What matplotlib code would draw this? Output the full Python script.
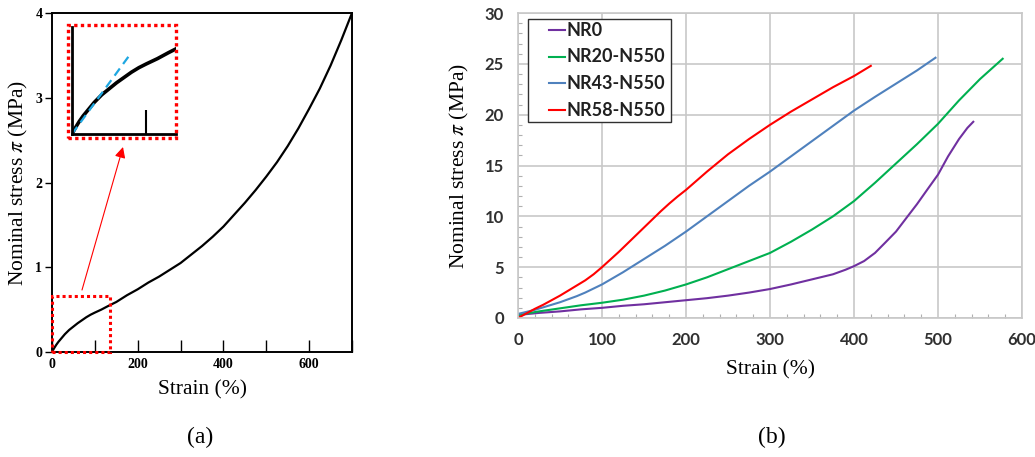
import numpy as np
import matplotlib.pyplot as plt
from matplotlib.patches import Rectangle
from matplotlib.lines import Line2D

plt.rcParams["mathtext.fontset"] = "stix"

# (a) single tensile curve
strain_a = [0, 5, 10, 15, 20, 30, 40, 50, 60, 70, 80, 90, 100, 115, 130, 150, 175,
            200, 225, 250, 275, 300, 325, 350, 375, 400, 425, 450, 475, 500, 525,
            550, 575, 600, 625, 650, 675, 700]
stress_a = [0, 0.045, 0.085, 0.12, 0.15, 0.21, 0.26, 0.30, 0.34, 0.375, 0.41, 0.44,
            0.465, 0.50, 0.54, 0.59, 0.67, 0.74, 0.82, 0.89, 0.97, 1.05, 1.15, 1.25,
            1.36, 1.48, 1.62, 1.76, 1.91, 2.07, 2.24, 2.43, 2.64, 2.87, 3.11, 3.38,
            3.68, 4.0]
tangent_strain = [0, 77]
tangent_stress = [0, 0.52]

# (b) filled compounds
series_names = ["NR0", "NR20-N550", "NR43-N550", "NR58-N550"]
series_colors = ["#7030a0", "#00b050", "#4f81bd", "#ff0000"]
strain_nr0 = [0, 25, 50, 75, 100, 125, 150, 175, 200, 225, 250, 275, 300, 325, 350,
              375, 390, 400, 412, 425, 437, 450, 462, 475, 487, 500, 512, 525, 535, 542]
stress_nr0 = [0.3, 0.5, 0.65, 0.85, 1.0, 1.2, 1.35, 1.55, 1.75, 1.95, 2.2, 2.5, 2.85,
              3.3, 3.8, 4.3, 4.75, 5.1, 5.6, 6.4, 7.4, 8.5, 9.8, 11.2, 12.6, 14.1,
              15.9, 17.6, 18.7, 19.3]
strain_nr20 = [0, 25, 50, 75, 100, 125, 150, 175, 200, 225, 250, 275, 300, 325, 350,
               375, 400, 425, 450, 475, 500, 525, 550, 577]
stress_nr20 = [0.3, 0.65, 0.95, 1.25, 1.5, 1.8, 2.2, 2.7, 3.3, 4.0, 4.8, 5.6, 6.4, 7.5,
               8.7, 10.0, 11.5, 13.3, 15.2, 17.1, 19.1, 21.4, 23.5, 25.5]
strain_nr43 = [0, 10, 20, 30, 40, 50, 60, 70, 80, 90, 100, 125, 150, 175, 200, 225,
               250, 275, 300, 325, 350, 375, 400, 425, 450, 475, 497]
stress_nr43 = [0.4, 0.6, 0.8, 1.05, 1.3, 1.55, 1.85, 2.15, 2.5, 2.9, 3.3, 4.5, 5.8,
               7.1, 8.5, 10.0, 11.5, 13.0, 14.4, 15.9, 17.4, 18.9, 20.4, 21.75, 23.05,
               24.35, 25.6]
strain_nr58 = [0, 10, 20, 30, 40, 50, 60, 70, 80, 90, 100, 110, 120, 130, 140, 150,
               160, 170, 180, 190, 200, 225, 250, 275, 300, 325, 350, 375, 400, 420]
stress_nr58 = [0, 0.45, 0.9, 1.3, 1.75, 2.2, 2.7, 3.2, 3.7, 4.3, 5.0, 5.75, 6.5, 7.3,
               8.1, 8.9, 9.7, 10.5, 11.25, 11.95, 12.6, 14.4, 16.1, 17.6, 19.0, 20.3,
               21.5, 22.7, 23.8, 24.8]

W, H = 1035, 457
fig = plt.figure(figsize=(W / 100, H / 100), dpi=100)


def px(x, y):
    # pixel position (from top-left) to figure fraction
    return x / W, 1 - y / H


serif = "Liberation Serif"
sans = "Lato"

# ---- panel (a)
ax = fig.add_axes([52 / W, 1 - 352 / H, 300 / W, 339 / H])
ax.plot(strain_a, stress_a, color="black", lw=1.6)
ax.set_xlim(0, 700)
ax.set_ylim(0, 4)
ax.set_xticks(range(0, 701, 100))
ax.set_xticklabels(["0", "", "200", "", "400", "", "600", ""])
ax.set_yticks([0, 1, 2, 3, 4])
ax.tick_params(axis="x", direction="in", length=9, width=1, pad=4)
ax.tick_params(axis="y", direction="out", length=5, width=1, pad=2)
for lab in ax.get_xticklabels() + ax.get_yticklabels():
    lab.set_fontfamily(serif)
    lab.set_fontweight("bold")
    lab.set_fontsize(10)
for s in ax.spines.values():
    s.set_linewidth(1.4)
ax.set_xlabel("Strain (%)", fontfamily=serif, fontsize=15.5, labelpad=7)
ax.set_ylabel(r"Nominal stress $\pi$ (MPa)", fontfamily=serif, fontsize=15.5, labelpad=4)

# zoom box on the origin region
ax.add_patch(Rectangle((0, 0), 135, 0.66, fill=False, ec="red", ls=(0, (1, 1)),
                       lw=2.2, clip_on=False, zorder=5))

# inset with the initial slope
ins = fig.add_axes([72 / W, 1 - 134 / H, 104 / W, 107 / H])
ins.plot(strain_a, stress_a, color="black", lw=2.6)
ins.plot(tangent_strain, tangent_stress, color="#1ea7e1", lw=1.6, ls=(0, (4, 2.5)))
ins.set_xlim(0, 140)
ins.set_ylim(0, 0.71)
ins.set_xticks([100])
ins.set_yticks([])
ins.set_xticklabels([])
ins.tick_params(axis="x", direction="in", length=17, width=1.5)
ins.spines["top"].set_visible(False)
ins.spines["right"].set_visible(False)
ins.spines["left"].set_linewidth(2)
ins.spines["bottom"].set_linewidth(2)
ins.patch.set_alpha(0)
fig.patches.append(Rectangle(px(68, 138), 108 / W, 113 / H, fill=False,
                             ec="red", ls=(0, (1, 1)), lw=2.4,
                             transform=fig.transFigure, figure=fig))

ax.annotate("", xy=px(123, 147), xytext=px(82, 290),
            xycoords="figure fraction", textcoords="figure fraction",
            arrowprops=dict(arrowstyle="-|>", color="red", lw=0.8,
                            mutation_scale=16, shrinkA=0, shrinkB=0))

# ---- panel (b)
bx = fig.add_axes([518 / W, 1 - 318 / H, 504 / W, 305 / H])
curves = [(strain_nr0, stress_nr0), (strain_nr20, stress_nr20),
          (strain_nr43, stress_nr43), (strain_nr58, stress_nr58)]
for (x, y), c in zip(curves, series_colors):
    bx.plot(x, y, color=c, lw=1.5)
bx.set_xlim(0, 600)
bx.set_ylim(0, 30)
bx.set_xticks(range(0, 601, 100))
bx.set_yticks(range(0, 31, 5))
bx.set_xticks(range(0, 601, 20), minor=True)
bx.set_yticks(range(0, 31, 1), minor=True)
bx.grid(True, which="major", color="#c8c8c8", lw=1.2)
bx.set_axisbelow(True)
bx.tick_params(which="major", length=0, pad=10)
bx.tick_params(which="minor", direction="in", length=3, width=0.8, color="#b0b0b0")
for lab in bx.get_xticklabels() + bx.get_yticklabels():
    lab.set_fontfamily(sans)
    lab.set_fontweight("bold")
    lab.set_fontsize(12)
    lab.set_color("#303030")
for s in bx.spines.values():
    s.set_color("#c8c8c8")
    s.set_linewidth(1.2)
bx.set_xlabel("Strain (%)", fontfamily=serif, fontsize=15.5, labelpad=9)
bx.set_ylabel(r"Nominal stress $\pi$ (MPa)", fontfamily=serif, fontsize=15.5, labelpad=10)

# legend box with short handles
fig.patches.append(Rectangle(px(528, 122), 143 / W, 103 / H, fill=True, fc="white",
                             ec="#303030", lw=1.0, transform=fig.transFigure,
                             figure=fig, zorder=5))
for i, (name, c) in enumerate(zip(series_names, series_colors)):
    yrow = 30 + i * 26.7
    fig.lines.append(Line2D([549 / W, 565 / W], [1 - yrow / H] * 2, color=c, lw=1.5,
                            transform=fig.transFigure, figure=fig, zorder=6))
    fig.text(566 / W, 1 - yrow / H, name, ha="left", va="center", fontfamily=sans,
             fontweight="bold", fontsize=13, color="#202020", zorder=6)

fig.text(200 / W, 1 - 437 / H, "(a)", ha="center", va="center", fontfamily=serif, fontsize=17)
fig.text(772 / W, 1 - 437 / H, "(b)", ha="center", va="center", fontfamily=serif, fontsize=17)

fig.savefig("out.png", dpi=100)
